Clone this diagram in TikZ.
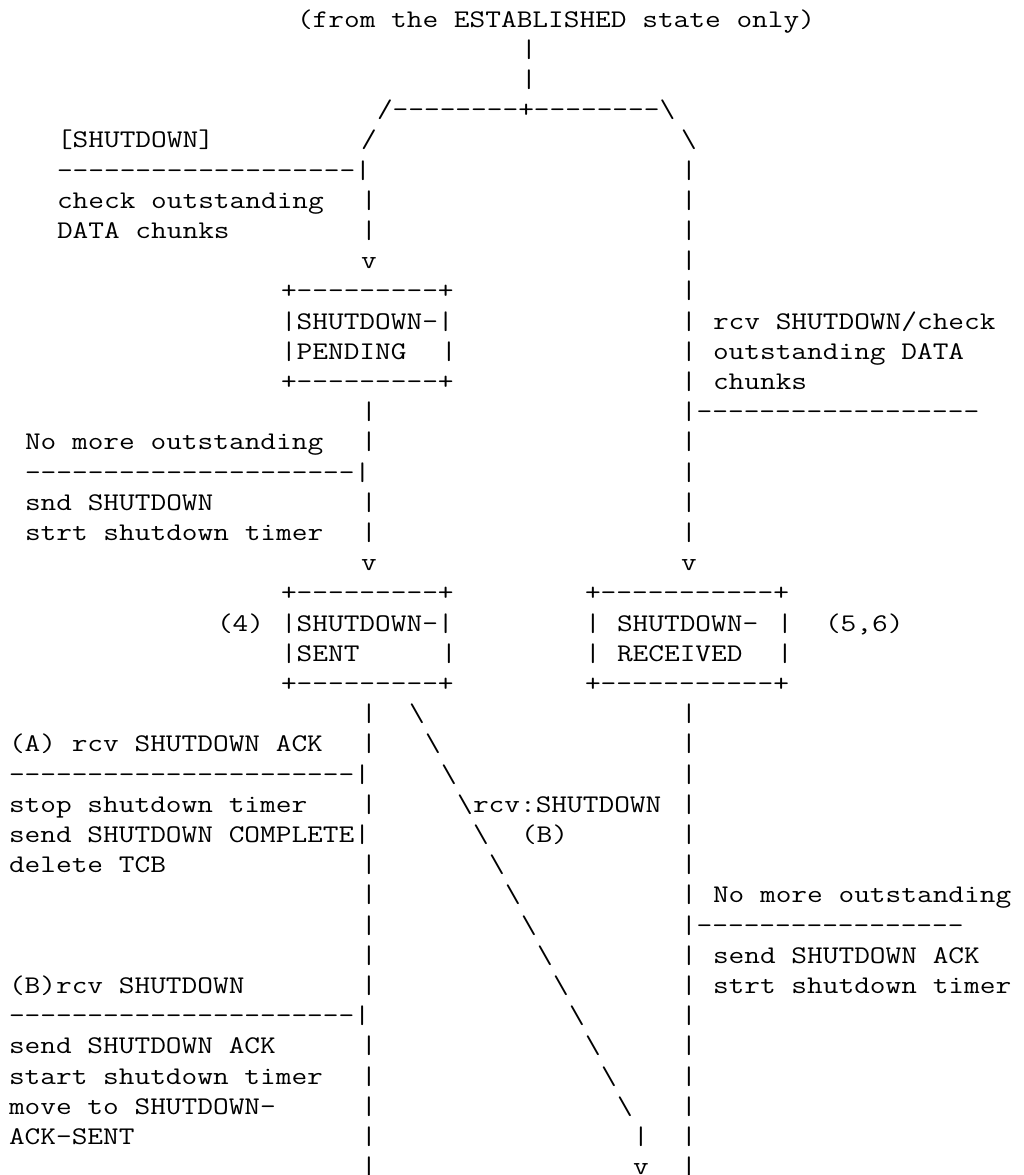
\documentclass[tikz,border=0pt]{standalone}
\usepackage{fontspec}
\setmonofont{Latin Modern Mono}[FakeStretch=1.2]
\newcommand\bs{\textbackslash}
\tikzset{
  asciitxt/.style={anchor=base west, inner sep=0pt, outer sep=0pt,
    font=\ttfamily\fontsize{19.05pt}{22pt}\selectfont, text=black}
}
\newcommand\asc[3]{\node[asciitxt] (r#1c#2) at ({9+16*#2},{27+30.2*#1}) {#3};}
\begin{document}
\begin{tikzpicture}[x=0.75pt,y=-0.75pt]
\useasboundingbox[fill=white] (0,0) rectangle (1024,1175);
% row 0-3
\asc{0}{18}{(from the ESTABLISHED state only)}
\asc{1}{32}{|}
\asc{2}{32}{|}
\asc{3}{23}{/--------+--------\bs}
% rows 4-8
\asc{4}{3}{[SHUTDOWN]} \asc{4}{22}{/} \asc{4}{42}{\bs}
\asc{5}{3}{-------------------|} \asc{5}{42}{|}
\asc{6}{3}{check outstanding} \asc{6}{22}{|} \asc{6}{42}{|}
\asc{7}{3}{DATA chunks} \asc{7}{22}{|} \asc{7}{42}{|}
\asc{8}{22}{v} \asc{8}{42}{|}
% SHUTDOWN-PENDING
\asc{9}{17}{+---------+} \asc{9}{42}{|}
\asc{10}{17}{|SHUTDOWN-|} \asc{10}{42}{|} \asc{10}{44}{rcv SHUTDOWN/check}
\asc{11}{17}{|PENDING} \asc{11}{27}{|} \asc{11}{42}{|} \asc{11}{44}{outstanding DATA}
\asc{12}{17}{+---------+} \asc{12}{42}{|} \asc{12}{44}{chunks}
\asc{13}{22}{|} \asc{13}{42}{|------------------}
\asc{14}{1}{No more outstanding} \asc{14}{22}{|} \asc{14}{42}{|}
\asc{15}{1}{---------------------|} \asc{15}{42}{|}
\asc{16}{1}{snd SHUTDOWN} \asc{16}{22}{|} \asc{16}{42}{|}
\asc{17}{1}{strt shutdown timer} \asc{17}{22}{|} \asc{17}{42}{|}
\asc{18}{22}{v} \asc{18}{42}{v}
% SHUTDOWN-SENT and SHUTDOWN-RECEIVED
\asc{19}{17}{+---------+} \asc{19}{36}{+-----------+}
\asc{20}{13}{(4)} \asc{20}{17}{|SHUTDOWN-|} \asc{20}{36}{|} \asc{20}{38}{SHUTDOWN-} \asc{20}{48}{|} \asc{20}{51}{(5,6)}
\asc{21}{17}{|SENT} \asc{21}{27}{|} \asc{21}{36}{|} \asc{21}{38}{RECEIVED} \asc{21}{48}{|}
\asc{22}{17}{+---------+} \asc{22}{36}{+-----------+}
% lower part
\asc{23}{22}{|} \asc{23}{25}{\bs} \asc{23}{42}{|}
\asc{24}{0}{(A) rcv SHUTDOWN ACK} \asc{24}{22}{|} \asc{24}{26}{\bs} \asc{24}{42}{|}
\asc{25}{0}{----------------------|} \asc{25}{27}{\bs} \asc{25}{42}{|}
\asc{26}{0}{stop shutdown timer} \asc{26}{22}{|} \asc{26}{28}{\bs} \asc{26}{29}{rcv:SHUTDOWN} \asc{26}{42}{|}
\asc{27}{0}{send SHUTDOWN COMPLETE|} \asc{27}{29}{\bs} \asc{27}{32}{(B)} \asc{27}{42}{|}
\asc{28}{0}{delete TCB} \asc{28}{22}{|} \asc{28}{30}{\bs} \asc{28}{42}{|}
\asc{29}{22}{|} \asc{29}{31}{\bs} \asc{29}{42}{|} \asc{29}{44}{No more outstanding}
\asc{30}{22}{|} \asc{30}{32}{\bs} \asc{30}{42}{|-----------------}
\asc{31}{22}{|} \asc{31}{33}{\bs} \asc{31}{42}{|} \asc{31}{44}{send SHUTDOWN ACK}
\asc{32}{0}{(B)rcv SHUTDOWN} \asc{32}{22}{|} \asc{32}{34}{\bs} \asc{32}{42}{|} \asc{32}{44}{strt shutdown timer}
\asc{33}{0}{----------------------|} \asc{33}{35}{\bs} \asc{33}{42}{|}
\asc{34}{0}{send SHUTDOWN ACK} \asc{34}{22}{|} \asc{34}{36}{\bs} \asc{34}{42}{|}
\asc{35}{0}{start shutdown timer} \asc{35}{22}{|} \asc{35}{37}{\bs} \asc{35}{42}{|}
\asc{36}{0}{move to SHUTDOWN-} \asc{36}{22}{|} \asc{36}{38}{\bs} \asc{36}{42}{|}
\asc{37}{0}{ACK-SENT} \asc{37}{22}{|} \asc{37}{39}{|} \asc{37}{42}{|}
\asc{38}{22}{|} \asc{38}{39}{v} \asc{38}{42}{|}
\end{tikzpicture}
\end{document}
